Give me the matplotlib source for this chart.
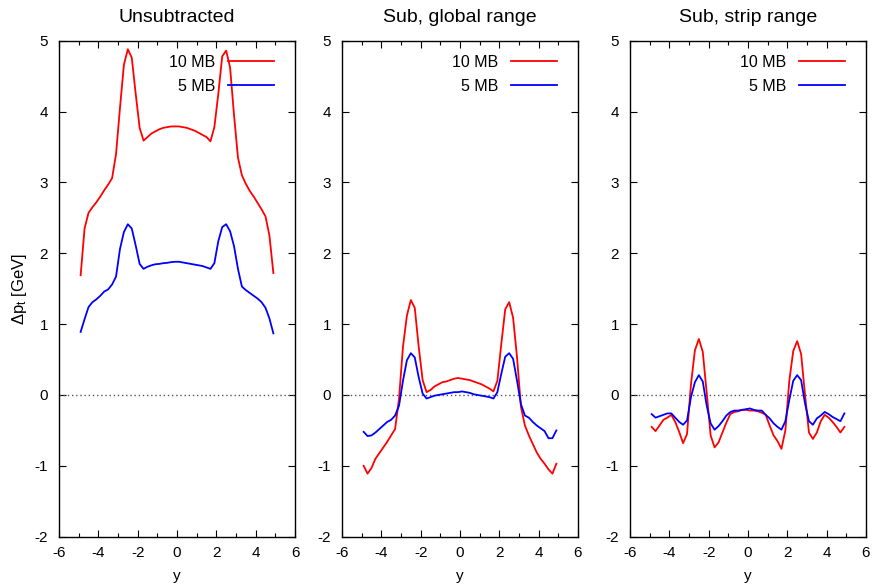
import matplotlib
matplotlib.use('Agg')
import matplotlib.pyplot as plt
from matplotlib.ticker import MultipleLocator

plt.rcParams['font.family'] = ['Liberation Sans', 'DejaVu Sans']
plt.rcParams['mathtext.fontset'] = 'custom'
plt.rcParams['mathtext.rm'] = 'Liberation Sans'
plt.rcParams['mathtext.it'] = 'Liberation Sans:italic'
plt.rcParams['axes.unicode_minus'] = False

# bin centres in rapidity
y_bins = [-4.9, -4.7, -4.5, -4.3, -4.1, -3.9, -3.7, -3.5, -3.3, -3.1,
          -2.9, -2.7, -2.5, -2.3, -2.1, -1.9, -1.7, -1.5, -1.3, -1.1,
          -0.9, -0.7, -0.5, -0.3, -0.1, 0.1, 0.3, 0.5, 0.7, 0.9,
          1.1, 1.3, 1.5, 1.7, 1.9, 2.1, 2.3, 2.5, 2.7, 2.9,
          3.1, 3.3, 3.5, 3.7, 3.9, 4.1, 4.3, 4.5, 4.7, 4.9]

unsub_10mb = [1.69, 2.35, 2.57, 2.65, 2.72, 2.80, 2.89, 2.97, 3.06, 3.40,
              4.05, 4.66, 4.88, 4.76, 4.25, 3.77, 3.59, 3.64, 3.69, 3.72,
              3.75, 3.77, 3.78, 3.79, 3.79, 3.79, 3.78, 3.77, 3.75, 3.73,
              3.70, 3.67, 3.64, 3.58, 3.78, 4.25, 4.78, 4.86, 4.62, 3.95,
              3.35, 3.10, 2.98, 2.88, 2.80, 2.71, 2.62, 2.52, 2.25, 1.72]
unsub_5mb = [0.89, 1.07, 1.24, 1.31, 1.35, 1.40, 1.46, 1.49, 1.56, 1.67,
             2.06, 2.30, 2.41, 2.35, 2.11, 1.85, 1.78, 1.81, 1.83, 1.845,
             1.85, 1.86, 1.865, 1.875, 1.88, 1.88, 1.87, 1.86, 1.85, 1.84,
             1.83, 1.82, 1.80, 1.78, 1.86, 2.17, 2.37, 2.41, 2.31, 2.10,
             1.78, 1.53, 1.48, 1.44, 1.40, 1.36, 1.31, 1.23, 1.08, 0.87]

glob_10mb = [-1.00, -1.11, -1.03, -0.90, -0.82, -0.74, -0.66, -0.57, -0.48, -0.05,
             0.68, 1.12, 1.34, 1.23, 0.68, 0.21, 0.04, 0.07, 0.12, 0.15,
             0.18, 0.19, 0.21, 0.23, 0.24, 0.23, 0.22, 0.21, 0.19, 0.17,
             0.15, 0.12, 0.09, 0.05, 0.20, 0.72, 1.21, 1.31, 1.09, 0.53,
             -0.17, -0.43, -0.57, -0.69, -0.81, -0.90, -0.97, -1.05, -1.11, -0.97]
glob_5mb = [-0.52, -0.58, -0.57, -0.53, -0.48, -0.43, -0.38, -0.35, -0.29, -0.15,
            0.20, 0.49, 0.59, 0.53, 0.25, 0.02, -0.05, -0.03, -0.01, 0.00,
            0.01, 0.02, 0.03, 0.04, 0.04, 0.05, 0.04, 0.03, 0.01, 0.00,
            -0.01, -0.02, -0.03, -0.05, 0.04, 0.30, 0.54, 0.59, 0.51, 0.20,
            -0.13, -0.29, -0.32, -0.38, -0.43, -0.47, -0.51, -0.61, -0.61, -0.50]

strip_10mb = [-0.45, -0.51, -0.43, -0.35, -0.32, -0.28, -0.38, -0.52, -0.68, -0.55,
              0.15, 0.63, 0.79, 0.61, 0.03, -0.57, -0.74, -0.67, -0.53, -0.39,
              -0.27, -0.24, -0.23, -0.21, -0.21, -0.22, -0.22, -0.23, -0.25, -0.28,
              -0.43, -0.57, -0.65, -0.76, -0.50, 0.20, 0.62, 0.76, 0.58, 0.00,
              -0.53, -0.62, -0.53, -0.37, -0.28, -0.32, -0.38, -0.45, -0.53, -0.45]
strip_5mb = [-0.27, -0.32, -0.30, -0.28, -0.26, -0.26, -0.32, -0.38, -0.42, -0.36,
             -0.03, 0.18, 0.28, 0.19, -0.15, -0.40, -0.49, -0.44, -0.37, -0.29,
             -0.24, -0.22, -0.22, -0.21, -0.20, -0.19, -0.21, -0.22, -0.22, -0.28,
             -0.33, -0.40, -0.45, -0.49, -0.37, -0.07, 0.20, 0.28, 0.21, -0.12,
             -0.37, -0.42, -0.33, -0.29, -0.24, -0.27, -0.31, -0.34, -0.37, -0.26]

titles = ['Unsubtracted', 'Sub, global range', 'Sub, strip range']
panels = [(unsub_10mb, unsub_5mb), (glob_10mb, glob_5mb), (strip_10mb, strip_5mb)]

fig = plt.figure(figsize=(8.75, 5.87), dpi=100)
lefts = [59 / 875, 342 / 875, 630 / 875]
for i, (left, title, (red, blue)) in enumerate(zip(lefts, titles, panels)):
    ax = fig.add_axes([left, 50.3 / 587, 236 / 875, 496 / 587])
    ax.axhline(0, color='#555555', lw=1.0, ls=(0, (1, 2)))
    ax.plot(y_bins, red, color='#ff0000', lw=1.3, label='10 MB')
    ax.plot(y_bins, blue, color='#0000ff', lw=1.3, label='5 MB')
    ax.set_xlim(-6, 6)
    ax.set_ylim(-2, 5)
    ax.xaxis.set_major_locator(MultipleLocator(2))
    ax.xaxis.set_minor_locator(MultipleLocator(1))
    ax.yaxis.set_major_locator(MultipleLocator(1))
    ax.tick_params(which='both', direction='in', top=True, right=True,
                   labelsize=11, width=0.8)
    ax.tick_params(which='major', length=5)
    ax.tick_params(which='minor', length=3)
    ax.tick_params(axis='x', pad=7)
    ax.tick_params(axis='y', pad=8)
    for sp in ax.spines.values():
        sp.set_linewidth(1.0)
    ax.set_title(title, fontsize=14, pad=13.5)
    ax.set_xlabel('y', fontsize=11, labelpad=6)
    if i == 0:
        ax.set_ylabel(r'$\Delta \mathrm{p_t}$ [GeV]', fontsize=12, labelpad=4)
    ax.legend(loc='upper right', bbox_to_anchor=(0.911, 0.972), frameon=False,
              markerfirst=False, handlelength=2.9, handletextpad=0.75,
              labelspacing=0.56, borderaxespad=0, borderpad=0, fontsize=11.5)

fig.savefig('out.png', dpi=100)
